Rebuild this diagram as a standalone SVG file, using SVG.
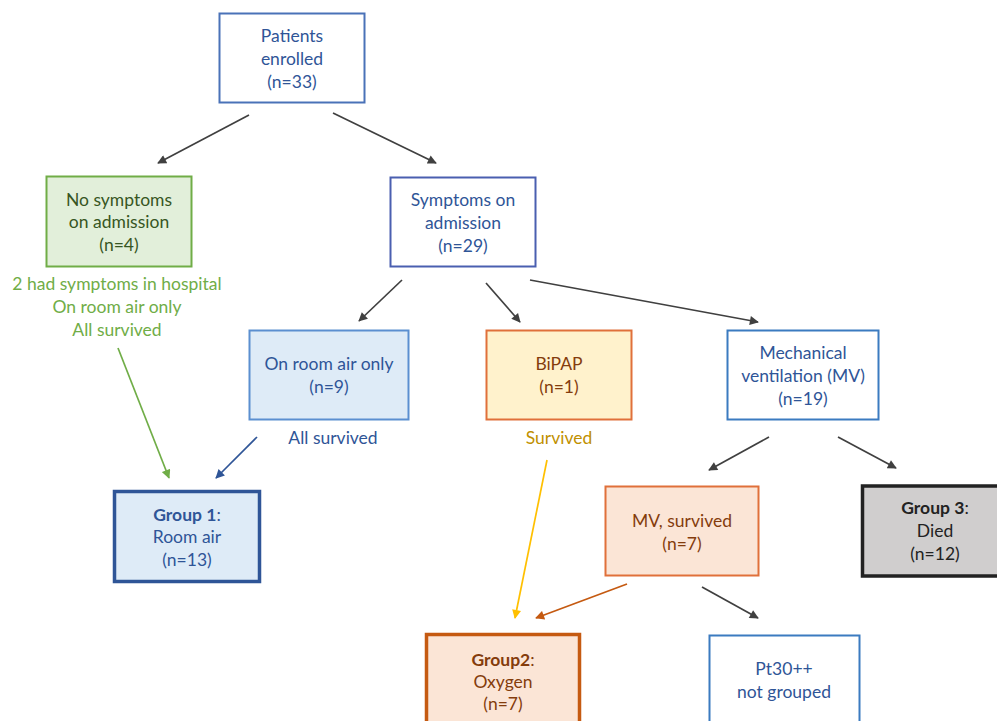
<svg xmlns="http://www.w3.org/2000/svg" width="997" height="721" viewBox="0 0 997 721">
<style>
text{font-family:Lato,"Open Sans","Liberation Sans",sans-serif;font-size:17.5px;text-anchor:middle}
.b{fill:#2f5597}.g{fill:#375623}.lg{fill:#70ad47}.br{fill:#843c0c}.gold{fill:#bf9000}.k{fill:#222}
.bold{font-weight:bold}
.c{fill:none;stroke-width:1.7}
</style>
<defs>
<marker id="ak" viewBox="0 0 10 10" refX="9" refY="5" markerWidth="11" markerHeight="9" markerUnits="userSpaceOnUse" orient="auto"><path d="M0,0 L10,5 L0,10 z" fill="#404040"/></marker>
<marker id="ag" viewBox="0 0 10 10" refX="9" refY="5" markerWidth="11" markerHeight="9" markerUnits="userSpaceOnUse" orient="auto"><path d="M0,0 L10,5 L0,10 z" fill="#70ad47"/></marker>
<marker id="ab" viewBox="0 0 10 10" refX="9" refY="5" markerWidth="11" markerHeight="9" markerUnits="userSpaceOnUse" orient="auto"><path d="M0,0 L10,5 L0,10 z" fill="#2f5597"/></marker>
<marker id="ay" viewBox="0 0 10 10" refX="9" refY="5" markerWidth="11" markerHeight="9" markerUnits="userSpaceOnUse" orient="auto"><path d="M0,0 L10,5 L0,10 z" fill="#ffc000"/></marker>
<marker id="ao" viewBox="0 0 10 10" refX="9" refY="5" markerWidth="11" markerHeight="9" markerUnits="userSpaceOnUse" orient="auto"><path d="M0,0 L10,5 L0,10 z" fill="#c55a11"/></marker>
</defs>
<rect width="997" height="721" fill="#fff"/>
<g id="connectors">
<line class="c" stroke="#404040" x1="249" y1="115" x2="158" y2="163" marker-end="url(#ak)"/>
<line class="c" stroke="#404040" x1="333" y1="113" x2="436" y2="163" marker-end="url(#ak)"/>
<line class="c" stroke="#404040" x1="402" y1="280" x2="359" y2="321" marker-end="url(#ak)"/>
<line class="c" stroke="#404040" x1="486" y1="283" x2="520" y2="322" marker-end="url(#ak)"/>
<line class="c" stroke="#404040" x1="530" y1="280" x2="758" y2="322" marker-end="url(#ak)"/>
<line class="c" stroke="#404040" x1="769" y1="437" x2="709" y2="470" marker-end="url(#ak)"/>
<line class="c" stroke="#404040" x1="838" y1="437" x2="896" y2="468" marker-end="url(#ak)"/>
<line class="c" stroke="#70ad47" x1="118" y1="348" x2="169" y2="478" marker-end="url(#ag)"/>
<line class="c" stroke="#2f5597" x1="257" y1="437" x2="216" y2="478" marker-end="url(#ab)"/>
<line class="c" stroke="#ffc000" x1="547" y1="460" x2="515" y2="618" marker-end="url(#ay)"/>
<line class="c" stroke="#c55a11" x1="627" y1="584" x2="536" y2="618" marker-end="url(#ao)"/>
<line class="c" stroke="#404040" x1="702" y1="587" x2="758" y2="618" marker-end="url(#ak)"/>
</g>
<g id="enrolled">
<rect x="219.5" y="13.5" width="145" height="89" fill="#fff" stroke="#4a72b8" stroke-width="2"/>
<text class="b" x="292" y="42">Patients</text>
<text class="b" x="292" y="65">enrolled</text>
<text class="b" x="292" y="88">(n=33)</text>
</g>
<g id="nosymptoms">
<rect x="46.5" y="176.5" width="145" height="90" fill="#e2efda" stroke="#70ad47" stroke-width="2"/>
<text class="g" x="119" y="206">No symptoms</text>
<text class="g" x="119" y="228">on admission</text>
<text class="g" x="119" y="251">(n=4)</text>
<text class="lg" x="117" y="290">2 had symptoms in hospital</text>
<text class="lg" x="117" y="313">On room air only</text>
<text class="lg" x="117" y="336">All survived</text>
</g>
<g id="symptoms">
<rect x="390.5" y="177.5" width="145" height="89" fill="#fff" stroke="#4a5fb0" stroke-width="2"/>
<text class="b" x="463" y="206">Symptoms on</text>
<text class="b" x="463" y="229">admission</text>
<text class="b" x="463" y="252">(n=29)</text>
</g>
<g id="roomair">
<rect x="249.5" y="330.5" width="159" height="89" fill="#deebf7" stroke="#5b8fd0" stroke-width="2"/>
<text class="b" x="329" y="370">On room air only</text>
<text class="b" x="329" y="393">(n=9)</text>
<text class="b" x="333" y="444">All survived</text>
</g>
<g id="bipap">
<rect x="486.5" y="330.5" width="145" height="89" fill="#fff2cc" stroke="#e0703a" stroke-width="2"/>
<text class="br" x="559" y="370">BiPAP</text>
<text class="br" x="559" y="393">(n=1)</text>
<text class="gold" x="559" y="444">Survived</text>
</g>
<g id="mv">
<rect x="727.5" y="330.5" width="151" height="89" fill="#fff" stroke="#3b7bc0" stroke-width="2"/>
<text class="b" x="803" y="359">Mechanical</text>
<text class="b" x="803" y="382">ventilation (MV)</text>
<text class="b" x="803" y="405">(n=19)</text>
</g>
<g id="group1">
<rect x="114.5" y="491.5" width="145" height="90" fill="#deebf7" stroke="#2f5597" stroke-width="3.5"/>
<text class="b" x="187" y="521"><tspan class="bold">Group 1</tspan>:</text>
<text class="b" x="187" y="543">Room air</text>
<text class="b" x="187" y="566">(n=13)</text>
</g>
<g id="mvsurvived">
<rect x="605.5" y="486.5" width="153" height="89" fill="#fbe5d6" stroke="#e0703a" stroke-width="2"/>
<text class="br" x="682" y="527">MV, survived</text>
<text class="br" x="682" y="550">(n=7)</text>
</g>
<g id="group3">
<rect x="862.5" y="486" width="140" height="90" fill="#d0cece" stroke="#222" stroke-width="3.5"/>
<text class="k" x="935" y="514"><tspan class="bold">Group 3</tspan>:</text>
<text class="k" x="935" y="537">Died</text>
<text class="k" x="935" y="560">(n=12)</text>
</g>
<g id="group2">
<rect x="426.5" y="634.5" width="153" height="95" fill="#fbe5d6" stroke="#c55a11" stroke-width="3.5"/>
<text class="br" x="503" y="666"><tspan class="bold">Group2</tspan>:</text>
<text class="br" x="503" y="688">Oxygen</text>
<text class="br" x="503" y="710">(n=7)</text>
</g>
<g id="pt30">
<rect x="709.5" y="635.5" width="150" height="95" fill="#fff" stroke="#3b7bc0" stroke-width="2"/>
<text class="b" x="784" y="675">Pt30++</text>
<text class="b" x="784" y="698">not grouped</text>
</g>
</svg>
